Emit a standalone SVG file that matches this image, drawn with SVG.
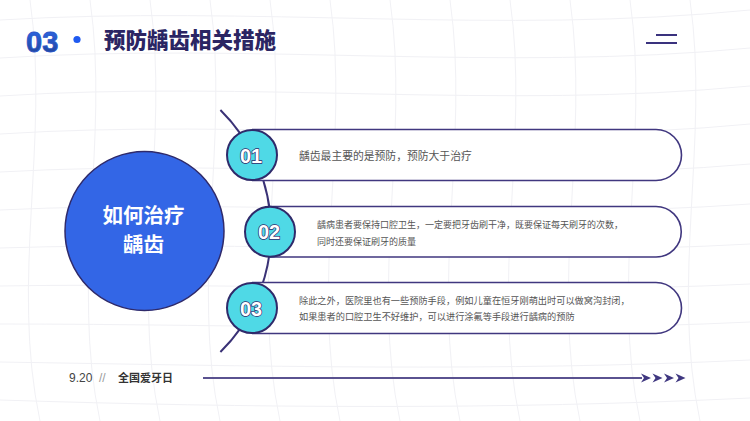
<svg xmlns="http://www.w3.org/2000/svg" width="750" height="421" viewBox="0 0 750 421">
<defs>
<linearGradient id="g03" x1="0" y1="0" x2="0" y2="1">
<stop offset="0" stop-color="#2f6cf0"/>
<stop offset="1" stop-color="#1f3f8e"/>
</linearGradient>
<path id="chev" d="M0,0 L10,4.5 L0,9 L3,4.5 Z"/>
</defs>
<style>
.grid{fill:none;stroke:#f1f1f5;stroke-width:1}
.box{fill:#ffffff;stroke:#40377f;stroke-width:1.6}
.dot{fill:#4fd9e6;stroke:#2f2a6a;stroke-width:2}
.num{font-family:"Liberation Sans",Arial,sans-serif;font-weight:bold;font-size:20px;fill:#ffffff;stroke:#2f2a6a;stroke-width:1.4;paint-order:stroke;text-anchor:middle}
.txt{font-family:"Noto Sans CJK SC","Noto Sans",sans-serif;fill:#555555}
.arc{fill:none;stroke:#3a3276;stroke-width:2}
.ctr{font-family:"Noto Sans CJK SC",sans-serif;font-weight:bold;font-size:20.5px;fill:#ffffff;text-anchor:middle}
</style>
<rect width="750" height="421" fill="#ffffff"/>
<g id="background">
<path class="grid" d="M0,20 C250,5 500,35 750,10"/>
<path class="grid" d="M0,58 C250,42 500,72 750,48"/>
<path class="grid" d="M0,96 C250,80 500,110 750,86"/>
<path class="grid" d="M0,134 C250,118 500,148 750,124"/>
<path class="grid" d="M0,172 C250,158 500,186 750,164"/>
<path class="grid" d="M0,210 C250,198 500,222 750,204"/>
<path class="grid" d="M0,248 C250,240 500,258 750,244"/>
<path class="grid" d="M0,286 C250,282 500,296 750,284"/>
<path class="grid" d="M0,324 C250,324 500,334 750,322"/>
<path class="grid" d="M0,362 C250,366 500,372 750,360"/>
<path class="grid" d="M0,400 C250,408 500,410 750,398"/>
<path class="grid" d="M30,0 C50,140 10,280 40,421"/>
<path class="grid" d="M90,0 C110,140 70,280 100,421"/>
<path class="grid" d="M150,0 C170,140 130,280 160,421"/>
<path class="grid" d="M210,0 C230,140 190,280 220,421"/>
<path class="grid" d="M270,0 C290,140 250,280 280,421"/>
<path class="grid" d="M330,0 C350,140 310,280 340,421"/>
<path class="grid" d="M390,0 C410,140 370,280 400,421"/>
<path class="grid" d="M450,0 C470,140 430,280 460,421"/>
<path class="grid" d="M510,0 C530,140 490,280 520,421"/>
<path class="grid" d="M570,0 C590,140 550,280 580,421"/>
<path class="grid" d="M630,0 C650,140 610,280 640,421"/>
<path class="grid" d="M690,0 C710,140 670,280 700,421"/>
</g>
<g id="header">
<text x="26" y="52" font-family="'Liberation Sans',Arial,sans-serif" font-weight="bold" font-size="29" fill="url(#g03)" stroke="#2a55c8" stroke-width="0.8">03</text>
<circle cx="77" cy="39.5" r="3.6" fill="#1f5af0"/>
<text x="104" y="48" font-family="'Noto Sans CJK SC',sans-serif" font-weight="900" font-size="21.5" fill="#2b2563">预防龋齿相关措施</text>
<line x1="656" y1="35" x2="677" y2="35" stroke="#3a327e" stroke-width="2"/>
<line x1="646" y1="43" x2="677" y2="43" stroke="#3a327e" stroke-width="2"/>
</g>
<g id="connectors">
<path class="arc" d="M220.4,110 A170,170 0 0 1 220.4,352"/>
</g>
<g id="center">
<circle cx="144.5" cy="231" r="79.5" fill="#3366e6" stroke="#2f2a6a" stroke-width="1.5"/>
<text class="ctr" x="143.5" y="222.5">如何治疗</text>
<text class="ctr" x="143.5" y="252">龋齿</text>
</g>
<g id="item1">
<path class="box" d="M252,129.5 H656 A25.5,25.5 0 0 1 656,180.5 H252"/>
<circle class="dot" cx="252" cy="155" r="25"/>
<text class="num" x="251" y="162.5">01</text>
<text class="txt" x="299" y="160" font-size="10.8">龋齿最主要的是预防，预防大于治疗</text>
</g>
<g id="item2">
<path class="box" d="M270,206.5 H656 A25.25,25.25 0 0 1 656,257 H270"/>
<circle class="dot" cx="270" cy="231.75" r="25"/>
<text class="num" x="269" y="239.25">02</text>
<text class="txt" x="317" y="227.5" font-size="9">龋病患者要保持口腔卫生，一定要把牙齿刷干净，既要保证每天刷牙的次数，</text>
<text class="txt" x="317" y="244.5" font-size="9">同时还要保证刷牙的质量</text>
</g>
<g id="item3">
<path class="box" d="M252,282.5 H656 A25.5,25.5 0 0 1 656,333.5 H252"/>
<circle class="dot" cx="252" cy="308" r="25"/>
<text class="num" x="251" y="315.5">03</text>
<text class="txt" x="299" y="303.5" font-size="9.2">除此之外，医院里也有一些预防手段，例如儿童在恒牙刚萌出时可以做窝沟封闭，</text>
<text class="txt" x="299" y="320" font-size="9.2">如果患者的口腔卫生不好维护，可以进行涂氟等手段进行龋病的预防</text>
</g>
<g id="footer">
<text x="69" y="382" font-family="'Liberation Sans',Arial,sans-serif" font-size="12" fill="#444444">9.20</text>
<text x="99" y="382" font-family="'Liberation Sans',Arial,sans-serif" font-size="12" fill="#9a9a9a">//</text>
<text x="118" y="382" font-family="'Noto Sans CJK SC',sans-serif" font-weight="bold" font-size="11" fill="#333333">全国爱牙日</text>
<line x1="203" y1="378" x2="642" y2="378" stroke="#5a5290" stroke-width="2"/>
<g fill="#3f3780">
<use href="#chev" x="641" y="373.5"/>
<use href="#chev" x="652.5" y="373.5"/>
<use href="#chev" x="664" y="373.5"/>
<use href="#chev" x="675.5" y="373.5"/>
</g>
</g>
</svg>
